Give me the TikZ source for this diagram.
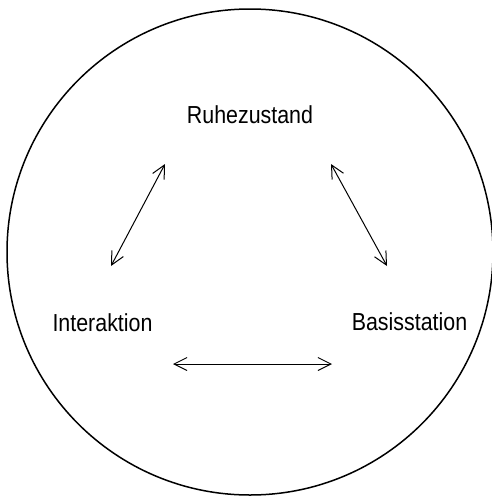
\documentclass[tikz,border=0pt]{standalone}
\usepackage{fontspec}
\setmainfont{Liberation Sans}
\usetikzlibrary{arrows.meta}
\newcommand{\tallname}[1]{\scalebox{1}[1.15]{#1}}

\begin{document}
\begin{tikzpicture}[x=1pt,y=-1pt,
  state/.style={font=\fontsize{21.4}{25}\selectfont},
  link/.style={{Straight Barb[length=13pt,width=13pt]}-{Straight Barb[length=13pt,width=13pt]}, line width=1pt}]
\useasboundingbox (0,0) rectangle (492,496);

\draw[line width=1.5pt] (250,252) circle[radius=243pt];

\node[state] (ruhe)  at (250,114.5) {\tallname{Ruhezustand}};
\node[state] (inter) at (102.5,323) {\tallname{Interaktion}};
\node[state] (basis) at (409.5,322) {\tallname{Basisstation}};

\coordinate (ir) at (111,266);
\coordinate (ri) at (165,164);
\coordinate (rb) at (331,164);
\coordinate (br) at (387,266);
\coordinate (ib) at (173,364);
\coordinate (bi) at (332,364);

\draw[link] (ir) -- (ri);
\draw[link] (rb) -- (br);
\draw[link] (ib) -- (bi);

\end{tikzpicture}
\end{document}
